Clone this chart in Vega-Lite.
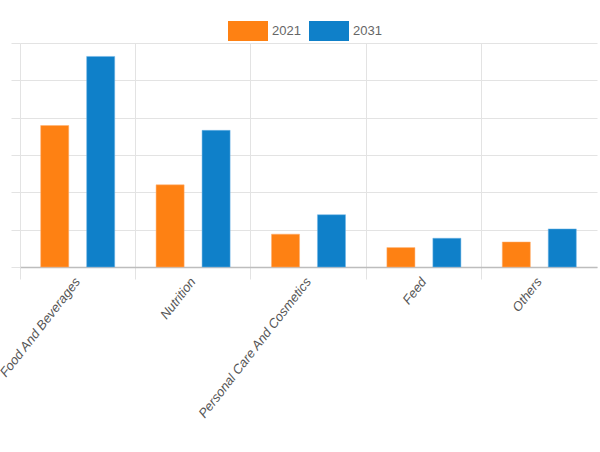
{
  "$schema": "https://vega.github.io/schema/vega-lite/v6.json",
  "autosize": {"type": "none"},
  "width": 577,
  "height": 224,
  "padding": {"left": 20, "top": 43, "right": 3, "bottom": 185},
  "background": "white",
  "data": {
    "values": [
      {"segment": "Food And Beverages", "year": "2021", "value": 3.79},
      {"segment": "Food And Beverages", "year": "2031", "value": 5.64},
      {"segment": "Nutrition", "year": "2021", "value": 2.2},
      {"segment": "Nutrition", "year": "2031", "value": 3.66},
      {"segment": "Personal Care And Cosmetics", "year": "2021", "value": 0.88},
      {"segment": "Personal Care And Cosmetics", "year": "2031", "value": 1.4},
      {"segment": "Feed", "year": "2021", "value": 0.52},
      {"segment": "Feed", "year": "2031", "value": 0.77},
      {"segment": "Others", "year": "2021", "value": 0.67},
      {"segment": "Others", "year": "2031", "value": 1.02}
    ]
  },
  "mark": {"type": "bar", "strokeWidth": 1, "strokeOpacity": 0.5},
  "encoding": {
    "x": {
      "field": "segment",
      "type": "nominal",
      "sort": null,
      "scale": {"paddingInner": 0, "paddingOuter": 0},
      "axis": {
        "title": null,
        "bandPosition": 0,
        "labelAngle": -52,
        "labelAlign": "right",
        "labelBaseline": "middle",
        "labelFont": "Liberation Sans",
        "labelFontStyle": "italic",
        "labelFontSize": 13,
        "labelColor": "#555555",
        "labelPadding": 0,
        "tickSize": 12,
        "tickColor": "#e3e3e3",
        "grid": true,
        "gridColor": "#e3e3e3",
        "domainColor": "#bdbdbd",
        "domainWidth": 1.5
      }
    },
    "xOffset": {
      "field": "year",
      "type": "nominal",
      "scale": {"paddingInner": 0.39, "paddingOuter": 0.45}
    },
    "y": {
      "field": "value",
      "type": "quantitative",
      "scale": {"domain": [0, 6], "nice": false},
      "axis": {
        "title": null,
        "labels": false,
        "domain": false,
        "tickCount": 6,
        "tickSize": 9,
        "tickColor": "#e3e3e3",
        "grid": true,
        "gridColor": "#e3e3e3"
      }
    },
    "color": {
      "field": "year",
      "type": "nominal",
      "scale": {"domain": ["2021", "2031"], "range": ["#fe8113", "#0f80c9"]},
      "legend": {
        "title": null,
        "orient": "none",
        "direction": "horizontal",
        "legendX": 208,
        "legendY": -32,
        "symbolType": "M-1,-0.5H1V0.5H-1Z",
        "symbolSize": 1600,
        "symbolStrokeWidth": 0,
        "symbolOpacity": 1,
        "labelFont": "Liberation Sans",
        "labelFontSize": 13,
        "labelColor": "#666666",
        "labelOffset": 4,
        "columnPadding": 8
      }
    },
    "stroke": {
      "field": "year",
      "type": "nominal",
      "scale": {"domain": ["2021", "2031"], "range": ["#ffb070", "#6fb6e8"]},
      "legend": null
    }
  },
  "config": {"view": {"stroke": null}, "axis": {"labelFontStyle": "italic"}}
}
